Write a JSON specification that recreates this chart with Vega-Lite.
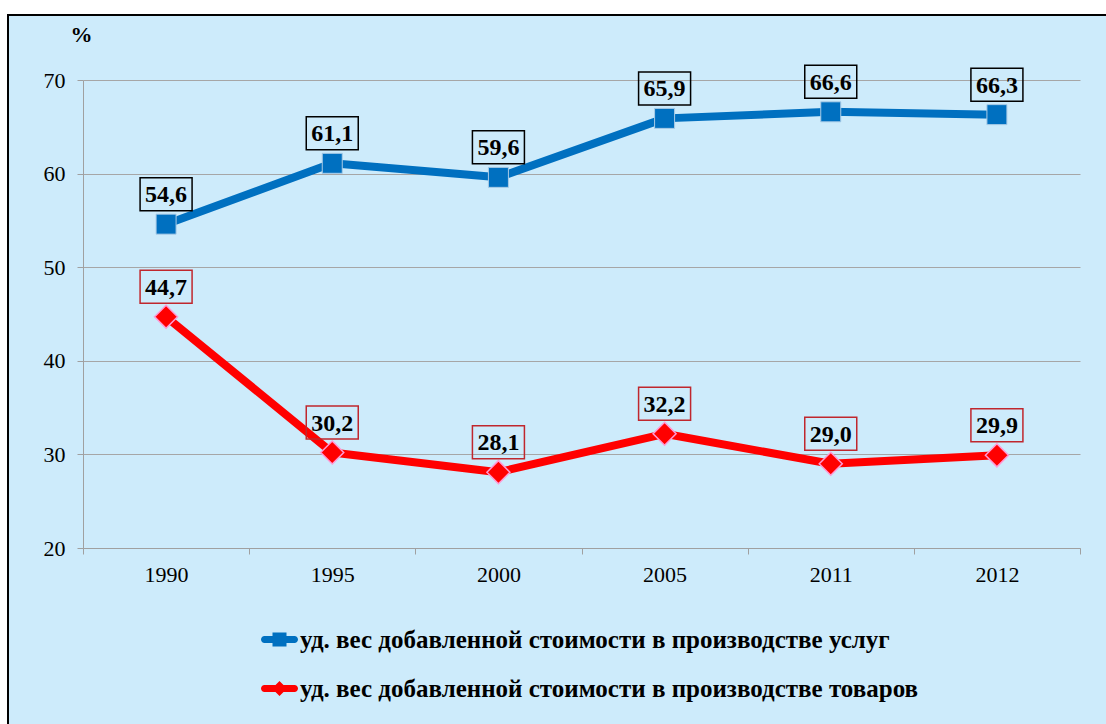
{
  "$schema": "https://vega.github.io/schema/vega-lite/v6.json",
  "width": 1098,
  "height": 709,
  "autosize": {"type": "none"},
  "padding": {"left": 8, "top": 15, "right": 0, "bottom": 0},
  "background": "white",
  "config": {
    "font": "Liberation Serif",
    "locale": {"number": {"decimal": ",", "thousands": " ", "grouping": [3], "currency": ["", ""]}},
    "view": {"fill": "#cdebfb", "stroke": "#000000", "strokeWidth": 2, "strokeDash": [1098, 1807, 709]}
  },
  "data": {
    "values": [
      {"year": "1990", "series": "уд. вес добавленной стоимости в производстве услуг", "value": 54.6},
      {"year": "1995", "series": "уд. вес добавленной стоимости в производстве услуг", "value": 61.1},
      {"year": "2000", "series": "уд. вес добавленной стоимости в производстве услуг", "value": 59.6},
      {"year": "2005", "series": "уд. вес добавленной стоимости в производстве услуг", "value": 65.9},
      {"year": "2011", "series": "уд. вес добавленной стоимости в производстве услуг", "value": 66.6},
      {"year": "2012", "series": "уд. вес добавленной стоимости в производстве услуг", "value": 66.3},
      {"year": "1990", "series": "уд. вес добавленной стоимости в производстве товаров", "value": 44.7},
      {"year": "1995", "series": "уд. вес добавленной стоимости в производстве товаров", "value": 30.2},
      {"year": "2000", "series": "уд. вес добавленной стоимости в производстве товаров", "value": 28.1},
      {"year": "2005", "series": "уд. вес добавленной стоимости в производстве товаров", "value": 32.2},
      {"year": "2011", "series": "уд. вес добавленной стоимости в производстве товаров", "value": 29.0},
      {"year": "2012", "series": "уд. вес добавленной стоимости в производстве товаров", "value": 29.9}
    ]
  },
  "encoding": {
    "x": {
      "field": "year", "type": "ordinal", "sort": null,
      "scale": {"type": "band", "range": [75, 1072], "paddingInner": 0, "paddingOuter": 0},
      "axis": {
        "title": null, "labelAngle": 0, "offset": -176, "grid": false,
        "domainColor": "#a0a0a0", "tickColor": "#a0a0a0", "tickSize": 6, "tickBand": "extent",
        "labelFont": "Liberation Serif", "labelFontSize": 22, "labelColor": "#000000", "labelPadding": 10
      }
    },
    "y": {
      "field": "value", "type": "quantitative",
      "scale": {"domain": [20, 70], "nice": false, "zero": false, "range": [533, 65]},
      "axis": {
        "values": [20, 30, 40, 50, 60, 70], "offset": -75,
        "title": "%", "titleAngle": 0, "titleX": -2, "titleY": 19, "titleAlign": "center", "titleBaseline": "middle",
        "titleFont": "Liberation Serif", "titleFontSize": 22, "titleFontWeight": "bold", "titleColor": "#000000",
        "grid": true, "gridColor": "#a6a6a6", "gridWidth": 1,
        "domainColor": "#a0a0a0", "tickColor": "#a0a0a0", "tickSize": 6,
        "labelFont": "Liberation Serif", "labelFontSize": 22, "labelColor": "#000000", "labelPadding": 12
      }
    }
  },
  "layer": [
    {
      "mark": {"type": "line", "strokeWidth": 8, "strokeJoin": "round"},
      "encoding": {
        "color": {
          "field": "series", "type": "nominal",
          "scale": {
            "domain": ["уд. вес добавленной стоимости в производстве услуг", "уд. вес добавленной стоимости в производстве товаров"],
            "range": ["#0070c0", "#ff0000"]
          },
          "legend": {
            "orient": "none", "legendX": 259, "legendY": 612, "direction": "vertical",
            "title": null, "padding": 0,
            "labelFont": "Liberation Serif", "labelFontSize": 25, "labelFontWeight": "bold", "labelColor": "#000000",
            "labelLimit": 0, "labelOffset": 8, "rowPadding": 23, "symbolSize": 4, "symbolStrokeWidth": 0,
            "encode": {
              "symbols": {
                "update": {
                  "shape": {"signal": "indexof(datum.value, 'услуг') >= 0 ? 'M-15,-3.5H15A3.5,3.5 0 0 1 15,3.5H-15A3.5,3.5 0 0 1 -15,-3.5Z M-7,-7H7V7H-7Z' : 'M-15,-3.5H15A3.5,3.5 0 0 1 15,3.5H-15A3.5,3.5 0 0 1 -15,-3.5Z M0,-7.5L7.5,0L0,7.5L-7.5,0Z'"},
                  "fill": {"signal": "indexof(datum.value, 'услуг') >= 0 ? '#0070c0' : '#ff0000'"},
                  "strokeWidth": {"value": 0},
                  "size": {"value": 4},
                  "opacity": {"value": 1}
                }
              }
            }
          }
        }
      }
    },
    {
      "transform": [{"filter": "indexof(datum.series, 'услуг') >= 0"}],
      "mark": {"type": "point", "shape": "square", "size": 400, "filled": true, "fill": "#0070c0", "stroke": "#a9cbe6", "strokeWidth": 1, "opacity": 1}
    },
    {
      "transform": [{"filter": "indexof(datum.series, 'товаров') >= 0"}],
      "mark": {"type": "point", "shape": "diamond", "size": 529, "filled": true, "fill": "#ff0000", "stroke": "#ff9ad5", "strokeWidth": 1.5, "opacity": 1}
    },
    {
      "mark": {"type": "point", "shape": "M-26,-16.5H26V16.5H-26Z", "size": 4, "filled": false, "strokeWidth": 1.5, "yOffset": -30, "opacity": 1},
      "encoding": {
        "stroke": {
          "field": "series", "type": "nominal",
          "scale": {
            "domain": ["уд. вес добавленной стоимости в производстве услуг", "уд. вес добавленной стоимости в производстве товаров"],
            "range": ["#000000", "#c0272d"]
          },
          "legend": null
        }
      }
    },
    {
      "mark": {"type": "text", "font": "Liberation Serif", "fontSize": 24, "fontWeight": "bold", "color": "#000000", "baseline": "middle", "align": "center", "yOffset": -29},
      "encoding": {
        "text": {"field": "value", "type": "quantitative", "format": ".1f"}
      }
    }
  ]
}
